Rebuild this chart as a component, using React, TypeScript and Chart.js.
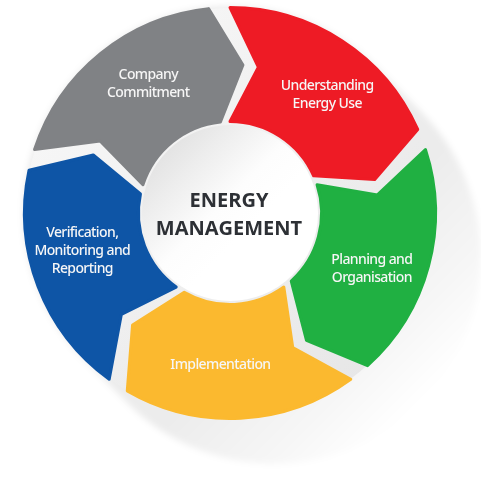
import React, { useEffect, useRef } from 'react';
import { Chart, registerables } from 'chart.js';

Chart.register(...registerables);

// ---- data ----
const stages = [
  'Company Commitment',
  'Understanding Energy Use',
  'Planning and Organisation',
  'Implementation',
  'Verification, Monitoring and Reporting',
];
const stageLines = [
  ['Company', 'Commitment'],
  ['Understanding', 'Energy Use'],
  ['Planning and', 'Organisation'],
  ['Implementation'],
  ['Verification,', 'Monitoring and', 'Reporting'],
];
const stageWeights = [1, 1, 1, 1, 1];
const stageColors = ['#808285', '#ee1b25', '#20b042', '#fbb92f', '#0e55a6'];
const centerTitle = ['ENERGY', 'MANAGEMENT'];

const DEG = Math.PI / 180;
const GAP = 6 * DEG; // angular gap between segments
const TIP = 11 * DEG; // how far the arrow tip reaches

function chevron(ctx: CanvasRenderingContext2D, cx: number, cy: number, R: number, r0: number, a: number, b: number) {
  const rm = (R + r0) / 2;
  const P = (t: number, r: number) => [cx + r * Math.cos(t), cy + r * Math.sin(t)];
  ctx.beginPath();
  const s = P(a, R);
  ctx.moveTo(s[0], s[1]);
  ctx.arc(cx, cy, R, a, b, false);
  const tip = P(b + TIP, rm);
  ctx.lineTo(tip[0], tip[1]);
  const bi = P(b, r0);
  ctx.lineTo(bi[0], bi[1]);
  ctx.arc(cx, cy, r0, b, a, true);
  const notch = P(a + TIP, rm);
  ctx.lineTo(notch[0], notch[1]);
  ctx.closePath();
}

const cyclePlugin = {
  id: 'cycleArrows',
  beforeDatasetsDraw(chart: any) {
    const ctx: CanvasRenderingContext2D = chart.ctx;
    const meta = chart.getDatasetMeta(0);
    const arcs = meta.data;
    if (!arcs.length) return false;
    const p0 = arcs[0].getProps(['x', 'y', 'innerRadius', 'outerRadius'], true);
    const cx = p0.x, cy = p0.y, R = p0.outerRadius, r0 = p0.innerRadius;

    ctx.save();
    // long soft shadow toward lower right
    const s = 62;
    const u = Math.SQRT1_2;
    const g = ctx.createLinearGradient(cx + u * R * 0.5, cy + u * R * 0.5, cx + u * (R + s), cy + u * (R + s));
    g.addColorStop(0, 'rgba(0,0,0,0.075)');
    g.addColorStop(0.6, 'rgba(0,0,0,0.035)');
    g.addColorStop(1, 'rgba(0,0,0,0)');
    (ctx as any).filter = 'blur(3px)';
    ctx.beginPath();
    ctx.moveTo(cx - u * R, cy + u * R);
    ctx.lineTo(cx + s * u - u * R, cy + s * u + u * R);
    ctx.arc(cx + s * u, cy + s * u, R, 135 * DEG, -45 * DEG, true);
    ctx.lineTo(cx + u * R, cy - u * R);
    ctx.arc(cx, cy, R, -45 * DEG, 135 * DEG, true);
    ctx.closePath();
    ctx.fillStyle = g;
    ctx.fill();
    (ctx as any).filter = 'none';

    // base disk (shows in the gaps)
    const bg = ctx.createLinearGradient(cx - R, cy - R, cx + R, cy + R);
    bg.addColorStop(0, '#fafafa');
    bg.addColorStop(1, '#e4e4e4');
    ctx.beginPath();
    ctx.arc(cx, cy, R - 2, 0, Math.PI * 2);
    ctx.fillStyle = bg;
    ctx.fill();

    // centre circle
    const cr = r0 - 2;
    const cg = ctx.createLinearGradient(cx - cr * 0.75, cy - cr * 0.75, cx + cr * 0.2, cy + cr * 0.2);
    cg.addColorStop(0, '#e2e2e2');
    cg.addColorStop(0.7, '#fdfdfd');
    cg.addColorStop(1, '#ffffff');
    ctx.beginPath();
    ctx.arc(cx, cy, cr, 0, Math.PI * 2);
    ctx.fillStyle = cg;
    ctx.fill();

    // arrow segments from the arc elements
    arcs.forEach((arc: any, i: number) => {
      const p = arc.getProps(['x', 'y', 'startAngle', 'endAngle', 'innerRadius', 'outerRadius'], true);
      const a = p.startAngle + GAP / 2;
      const b = p.endAngle - GAP / 2;
      const col = arc.options.backgroundColor || stageColors[i];
      chevron(ctx, p.x, p.y, p.outerRadius - 1.5, p.innerRadius + 1.5, a, b);
      ctx.fillStyle = col;
      ctx.fill();
      ctx.lineJoin = 'round';
      ctx.lineWidth = 3;
      ctx.strokeStyle = col;
      ctx.stroke();
    });
    ctx.restore();
    return false;
  },
  afterDraw(chart: any) {
    const ctx: CanvasRenderingContext2D = chart.ctx;
    const meta = chart.getDatasetMeta(0);
    const arcs = meta.data;
    if (!arcs.length) return;
    ctx.save();
    ctx.textAlign = 'center';
    ctx.textBaseline = 'middle';
    arcs.forEach((arc: any, i: number) => {
      const p = arc.getProps(['x', 'y', 'startAngle', 'endAngle', 'innerRadius', 'outerRadius'], true);
      const mid = (p.startAngle + p.endAngle) / 2 + TIP * 0.6;
      const r = (p.innerRadius + p.outerRadius) / 2 + 4;
      const x = p.x + r * Math.cos(mid);
      const y = p.y + r * Math.sin(mid);
      const lines = stageLines[i];
      const lh = 18;
      ctx.font = '500 14px "Noto Sans", "Open Sans", sans-serif';
      (ctx as any).letterSpacing = '-0.6px';
      ctx.fillStyle = '#f6f6f6';
      lines.forEach((ln, k) => {
        ctx.fillText(ln, x, y + (k - (lines.length - 1) / 2) * lh);
      });
    });
    // centre title
    const p0 = arcs[0].getProps(['x', 'y'], true);
    ctx.font = 'bold 20px "Open Sans", "Noto Sans", sans-serif';
    (ctx as any).letterSpacing = '0px';
    ctx.fillStyle = '#2d3035';
    ctx.fillText(centerTitle[0], p0.x - 1, p0.y - 12);
    ctx.fillText(centerTitle[1], p0.x - 1, p0.y + 16);
    ctx.restore();
  },
};

export default function App() {
  const ref = useRef<HTMLCanvasElement | null>(null);
  useEffect(() => {
    if (!ref.current) return;
    const chart = new Chart(ref.current, {
      type: 'doughnut',
      data: {
        labels: stages,
        datasets: [
          {
            data: stageWeights,
            backgroundColor: stageColors,
            borderWidth: 0,
          },
        ],
      },
      options: {
        responsive: false,
        animation: false,
        rotation: -75,
        cutout: '43.5%',
        layout: { padding: { left: 23, top: 6, right: 44, bottom: 61 } },
        plugins: {
          legend: { display: false },
          tooltip: { enabled: false },
        },
        events: [],
      },
      plugins: [cyclePlugin],
    });
    return () => chart.destroy();
  }, []);
  return (
    <div style={{ position: 'absolute', left: 0, top: 0, width: 481, height: 481, background: '#ffffff' }}>
      <canvas ref={ref} width={481} height={481} />
    </div>
  );
}
